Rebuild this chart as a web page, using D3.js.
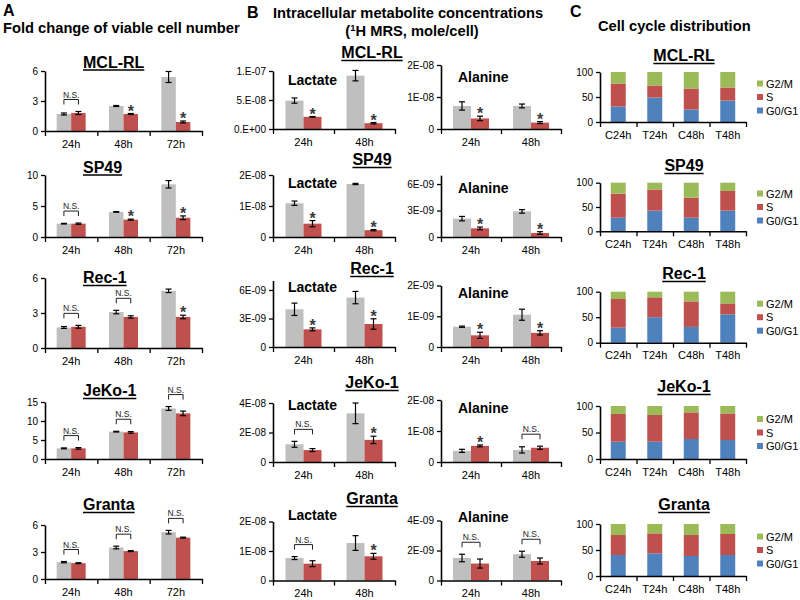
<!DOCTYPE html>
<html><head><meta charset="utf-8">
<script src="https://cdn.jsdelivr.net/npm/d3@7"></script>
<style>body{margin:0;background:#fff}svg{display:block}text{font-family:"Liberation Sans",Arial,sans-serif}</style>
</head><body><svg id="c" width="800" height="600"></svg>
<script>
// ---------------- DATA ----------------
const cellLines = ["MCL-RL","SP49","Rec-1","JeKo-1","Granta"];

// Panel A: fold change of viable cell number
const foldTimes = ["24h","48h","72h"];
const foldCtrl    = [[1.7,2.5,5.4],[2.15,4.05,8.5],[1.76,3.08,4.9],[2.8,7.2,13.3],[1.87,3.5,5.2]];
const foldCtrlErr = [[0.1,0.05,0.55],[0.05,0.05,0.6],[0.08,0.15,0.15],[0.12,0.1,0.5],[0.07,0.15,0.2]];
const foldTrt     = [[1.8,1.7,0.9],[2.15,2.8,3.1],[1.82,2.66,2.66],[2.8,7.0,12.0],[1.76,3.1,4.6]];
const foldTrtErr  = [[0.15,0.05,0.1],[0.1,0.08,0.3],[0.12,0.1,0.15],[0.2,0.2,0.6],[0.05,0.05,0.05]];
const foldSig     = [["ns","*","*"],["ns","*","*"],["ns","ns","*"],["ns","ns","ns"],["ns","ns","ns"]];
const foldMax     = [6,10,6,15,6];
const foldTicks   = [[0,3,6],[0,5,10],[0,3,6],[0,5,10,15],[0,3,6]];

// Panel B: intracellular metabolites
const metTimes = ["24h","48h"];
const lacCtrl    = [[4.9e-8,9.2e-8],[1.09e-8,1.71e-8],[3.97e-9,5.2e-9],[1.2e-8,3.3e-8],[0.76e-8,1.27e-8]];
const lacCtrlErr = [[0.45e-8,0.9e-8],[0.07e-8,0.02e-8],[0.65e-9,0.65e-9],[0.2e-8,0.7e-8],[0.05e-8,0.25e-8]];
const lacTrt     = [[2.1e-8,1.0e-8],[0.43e-8,0.22e-8],[1.86e-9,2.42e-9],[0.81e-8,1.5e-8],[0.57e-8,0.82e-8]];
const lacTrtErr  = [[0.05e-8,0.12e-8],[0.1e-8,0.02e-8],[0.15e-9,0.55e-9],[0.1e-8,0.25e-8],[0.1e-8,0.1e-8]];
const lacSig     = [["*","*"],["*","*"],["*","*"],["ns","*"],["ns","*"]];
const lacMax     = [1e-7,2e-8,7e-9,4e-8,2e-8];
const lacTicks   = [[0,5e-8,1e-7],[0,1e-8,2e-8],[0,3e-9,6e-9],[0,2e-8,4e-8],[0,1e-8,2e-8]];
const lacTickLabels = [["0.E+00","5.E-08","1.E-07"],["0","1E-08","2E-08"],["0","3E-09","6E-09"],["0","2E-08","4E-08"],["0","1E-08","2E-08"]];

const alaCtrl    = [[0.72e-8,0.72e-8],[2.08e-9,2.9e-9],[0.66e-9,1.05e-9],[0.36e-8,0.39e-8],[1.5e-9,1.75e-9]];
const alaCtrlErr = [[0.13e-8,0.06e-8],[0.25e-9,0.2e-9],[0.02e-9,0.18e-9],[0.05e-8,0.1e-8],[0.25e-9,0.2e-9]];
const alaTrt     = [[0.33e-8,0.2e-8],[0.98e-9,0.45e-9],[0.38e-9,0.46e-9],[0.52e-8,0.46e-8],[1.13e-9,1.3e-9]];
const alaTrtErr  = [[0.07e-8,0.03e-8],[0.15e-9,0.15e-9],[0.1e-9,0.07e-9],[0.03e-8,0.05e-8],[0.3e-9,0.2e-9]];
const alaSig     = [["*","*"],["*","*"],["*","*"],["*","ns"],["ns","ns"]];
const alaMax     = [2e-8,7e-9,2e-9,2e-8,4e-9];
const alaTicks   = [[0,1e-8,2e-8],[0,3e-9,6e-9],[0,1e-9,2e-9],[0,1e-8,2e-8],[0,2e-9,4e-9]];
const alaTickLabels = [["0","1E-08","2E-08"],["0","3E-09","6E-09"],["0","1E-09","2E-09"],["0","1E-08","2E-08"],["0","2E-09","4E-09"]];

// Panel C: cell cycle distribution (%)
const ccSamples = ["C24h","T24h","C48h","T48h"];
const ccPhases  = ["G0/G1","S","G2/M"];
const ccG0G1 = [[31,49,25,43],[28,42.5,28,42.5],[29.5,50,31,55.7],[32.6,32.6,37.7,35.8],[40.4,43.6,38.5,40.4]];
const ccS    = [[46,24,42,26],[49.4,43.5,41,40.5],[56.2,39,50,21.3],[52.4,50.4,50.3,50.2],[38.4,38.4,40.3,40.4]];
const ccG2M  = [[23,27,33,31],[22.6,14,31,17],[14.3,11,19,23],[15,17,12,14],[21.2,18,21.2,19.2]];
const ccTicks = [0,50,100];

// ---------------- LAYOUT / STYLE ----------------
const FONT = '"Liberation Sans",Arial,sans-serif';
const GRAY="#bfbfbf", RED="#c0504d", BLUE="#4f81bd", GREEN="#9bbb59";
const svg = d3.select("#c");

const layA=[{zero:131,top:71,tb:67.5},{zero:237,top:175,tb:172.5},{zero:348,top:278,tb:283},{zero:459,top:402,tb:396},{zero:579,top:525,tb:510}];
const layB=[
 {zero:129,lacTop:71,alaTop:65,tb:58,lacLb:85,alaLb:82},
 {zero:237,lacTop:175,alaTop:175.2,tb:165,lacLb:188,alaLb:193},
 {zero:347,lacTop:280.5,alaTop:285.5,tb:274,lacLb:292,alaLb:298},
 {zero:462,lacTop:403,alaTop:400,tb:388,lacLb:410,alaLb:413},
 {zero:580.5,lacTop:521.5,alaTop:520.5,tb:504,lacLb:520,alaLb:522}];
const layC=[{zero:122,top:72,tb:61},{zero:231.3,top:182.7,tb:171},{zero:342.7,top:291.7,tb:279},{zero:459,top:406,tb:392},{zero:576,top:524,tb:510}];

function txt(t,x,y,size,weight,anchor){
  return svg.append("text").attr("x",x).attr("y",y).attr("font-size",size)
    .attr("font-weight",weight||"normal").attr("text-anchor",anchor||"start")
    .attr("font-family",FONT).attr("fill","#000").text(t);
}
function rowTitle(t,x,y,anchor){
  const el=txt(t,x,y,16,"bold",anchor);
  const w=el.node().getComputedTextLength();
  const left= anchor==="middle"? x-w/2 : x;
  svg.append("line").attr("x1",left).attr("x2",left+w).attr("y1",y+2.5).attr("y2",y+2.5)
    .attr("stroke","#000").attr("stroke-width",1.6);
}
function styleAxis(g,size){
  g.attr("font-family",FONT).attr("font-size",size);
  g.selectAll("text").attr("fill","#000");
  g.selectAll("line").attr("stroke","#000").attr("stroke-width",1.3);
  g.select(".domain").attr("stroke","#000").attr("stroke-width",1.6);
}
function xAxis(x0,x1,zero,cats,labelSize){
  const lin=d3.scaleLinear().domain([0,cats.length]).range([x0,x1]);
  const a=svg.append("g").attr("transform",`translate(0,${zero})`)
    .call(d3.axisBottom(lin).tickValues(d3.range(cats.length+1)).tickFormat("").tickSize(5).tickSizeOuter(0));
  styleAxis(a,labelSize);
  const band=d3.scaleBand().domain(cats).range([x0,x1]);
  const b=svg.append("g").attr("transform",`translate(0,${zero})`)
    .call(d3.axisBottom(band).tickSize(0).tickPadding(9));
  styleAxis(b,labelSize);
  b.select(".domain").remove();
}
function yAxis(x0,y,ticks,labels,size){
  const a=svg.append("g").attr("transform",`translate(${x0},0)`)
    .call(d3.axisLeft(y).tickValues(ticks).tickFormat((d,i)=>labels?labels[i]:d).tickSize(4).tickSizeOuter(0).tickPadding(3));
  styleAxis(a,size);
}

function grouped(o){
  const x=d3.scaleBand().domain(o.cats).range([o.x0,o.x1]);
  const y=d3.scaleLinear().domain([0,o.max]).range([o.zero,o.top]);
  const bw=o.barW;
  const recs=o.cats.map((c,i)=>({c,i,cx:x(c)+x.bandwidth()/2,
     cv:o.ctrl[i],ce:o.ctrlErr[i],tv:o.trt[i],te:o.trtErr[i],sig:o.sig[i]}));
  const g=svg.append("g");
  g.selectAll("rect.c").data(recs).join("rect").attr("x",d=>d.cx-bw).attr("y",d=>y(d.cv))
    .attr("width",bw).attr("height",d=>o.zero-y(d.cv)).attr("fill",GRAY);
  g.selectAll("rect.t").data(recs).join("rect").attr("class","t").attr("x",d=>d.cx).attr("y",d=>y(d.tv))
    .attr("width",bw).attr("height",d=>o.zero-y(d.tv)).attr("fill",RED);
  const errs=[];
  recs.forEach(d=>{errs.push({x:d.cx-bw/2,v:d.cv,e:d.ce});errs.push({x:d.cx+bw/2,v:d.tv,e:d.te});});
  const eg=g.selectAll("g.err").data(errs).join("g").attr("stroke","#000").attr("stroke-width",1.2);
  eg.append("line").attr("x1",d=>d.x).attr("x2",d=>d.x).attr("y1",d=>y(d.v-d.e)).attr("y2",d=>y(d.v+d.e));
  eg.append("line").attr("x1",d=>d.x-3).attr("x2",d=>d.x+3).attr("y1",d=>y(d.v-d.e)).attr("y2",d=>y(d.v-d.e));
  eg.append("line").attr("x1",d=>d.x-3).attr("x2",d=>d.x+3).attr("y1",d=>y(d.v+d.e)).attr("y2",d=>y(d.v+d.e));
  recs.forEach(d=>{
    if(d.sig==="*"){
      svg.append("text").attr("x",d.cx+bw/2).attr("y",y(d.tv+d.te)+3).attr("text-anchor","middle")
        .attr("font-family",FONT).attr("font-size",16).attr("font-weight","bold").attr("fill","#3a3a3a").text("*");
    } else {
      const yb=y(Math.max(d.cv+d.ce,d.tv+d.te));
      const l=d.cx-bw/2, r=d.cx+bw/2, yl=yb-12, yleg=yb-7;
      svg.append("path").attr("d",`M${l},${yleg}V${yl}H${r}V${yleg}`).attr("fill","none")
        .attr("stroke","#222").attr("stroke-width",1);
      svg.append("text").attr("x",d.cx).attr("y",yl-2).attr("text-anchor","middle")
        .attr("font-family",FONT).attr("font-size",8.5).attr("fill","#222").text("N.S.");
    }
  });
  yAxis(o.x0,y,o.ticks,o.tickLabels,10);
  xAxis(o.x0,o.x1,o.zero,o.cats,11);
}

function stacked(o){
  const x=d3.scaleBand().domain(ccSamples).range([o.x0,o.x1]).paddingInner(0.59).paddingOuter(0.295);
  const y=d3.scaleLinear().domain([0,100]).range([o.zero,o.top]);
  const rows=ccSamples.map((s,i)=>({s,"G0/G1":o.g0[i],"S":o.s[i],"G2/M":o.g2[i]}));
  const series=d3.stack().keys(ccPhases)(rows);
  const col={"G0/G1":BLUE,"S":RED,"G2/M":GREEN};
  svg.append("g").selectAll("g").data(series).join("g").attr("fill",d=>col[d.key])
    .selectAll("rect").data(d=>d).join("rect")
    .attr("x",d=>x(d.data.s)).attr("width",x.bandwidth())
    .attr("y",d=>y(d[1])).attr("height",d=>y(d[0])-y(d[1]));
  yAxis(o.x0,y,ccTicks,null,10);
  xAxis(o.x0,o.x1,o.zero,ccSamples,11);
  const mid=(o.zero+o.top)/2;
  const leg=["G2/M","S","G0/G1"];
  leg.forEach((k,i)=>{
    const cy=mid+(i-1)*13.5;
    svg.append("rect").attr("x",757).attr("y",cy-3).attr("width",6).attr("height",6).attr("fill",col[k]);
    txt(k,766,cy+4,11);
  });
}

// ---------------- HEADERS ----------------
txt("A",3,16,16,"bold");
txt("Fold change of viable cell number",3,33,14.7,"bold");
txt("B",247,17.5,16,"bold");
txt("Intracellular metabolite concentrations",273,17.5,14.7,"bold");
const sub=svg.append("text").attr("x",412).attr("y",36).attr("text-anchor","middle")
  .attr("font-family",FONT).attr("font-size",14.7).attr("font-weight","bold");
sub.append("tspan").text("(");
sub.append("tspan").attr("font-size",9.5).attr("dy",-5).text("1");
sub.append("tspan").attr("dy",5).text("H MRS, mole/cell)");
txt("C",570,16.5,16,"bold");
txt("Cell cycle distribution",598,30.5,14.7,"bold");

// ---------------- PANELS ----------------
cellLines.forEach((name,r)=>{
  const a=layA[r];
  rowTitle(name,83,a.tb,"start");
  grouped({cats:foldTimes,x0:45,x1:202,zero:a.zero,top:a.top,max:foldMax[r],barW:14.5,
    ctrl:foldCtrl[r],ctrlErr:foldCtrlErr[r],trt:foldTrt[r],trtErr:foldTrtErr[r],sig:foldSig[r],
    ticks:foldTicks[r],tickLabels:null});

  const b=layB[r];
  rowTitle(name,372,b.tb,"middle");
  grouped({cats:metTimes,x0:273,x1:395,zero:b.zero,top:b.lacTop,max:lacMax[r],barW:18,
    ctrl:lacCtrl[r],ctrlErr:lacCtrlErr[r],trt:lacTrt[r],trtErr:lacTrtErr[r],sig:lacSig[r],
    ticks:lacTicks[r],tickLabels:lacTickLabels[r]});
  txt("Lactate",288,b.lacLb,14,"bold");
  grouped({cats:metTimes,x0:441,x1:561,zero:b.zero,top:b.alaTop,max:alaMax[r],barW:18,
    ctrl:alaCtrl[r],ctrlErr:alaCtrlErr[r],trt:alaTrt[r],trtErr:alaTrtErr[r],sig:alaSig[r],
    ticks:alaTicks[r],tickLabels:alaTickLabels[r]});
  txt("Alanine",458,b.alaLb,14,"bold");

  const c=layC[r];
  rowTitle(name,684,c.tb,"middle");
  stacked({x0:600,x1:746,zero:c.zero,top:c.top,g0:ccG0G1[r],s:ccS[r],g2:ccG2M[r]});
});
</script></body></html>
